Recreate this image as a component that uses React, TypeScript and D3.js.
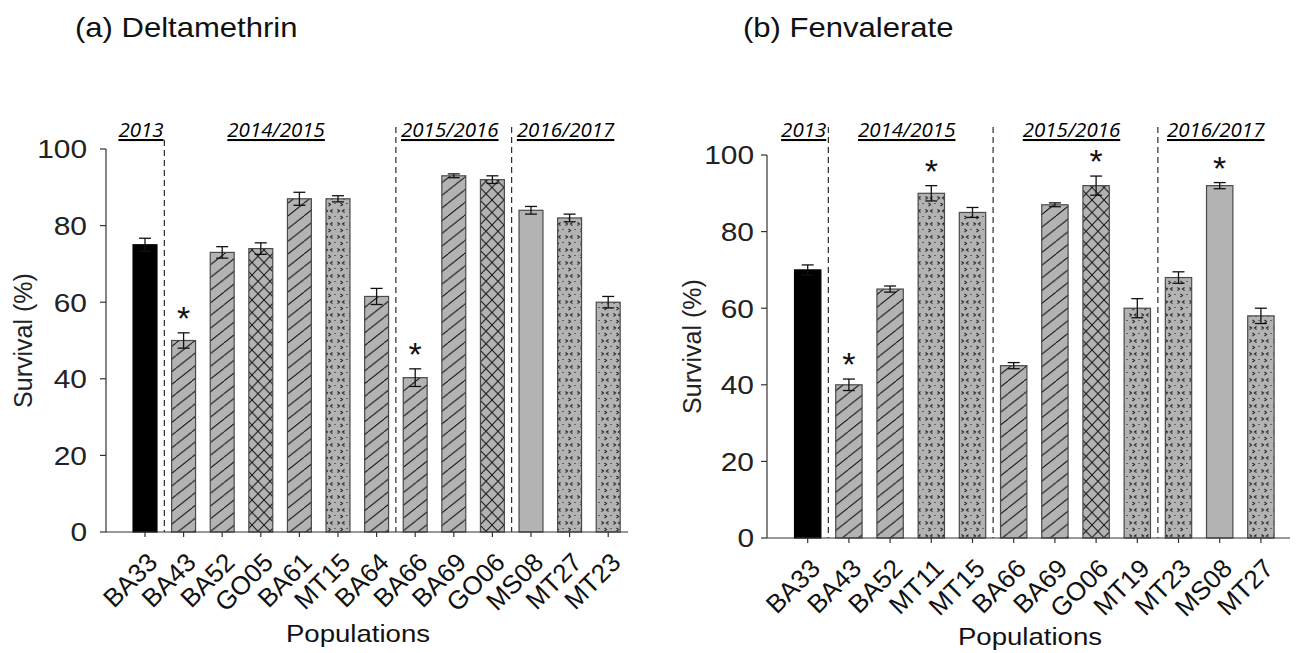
import React from "react";
import * as d3 from "d3";

// ---------- Data ----------
const leftCategories = ["BA33", "BA43", "BA52", "GO05", "BA61", "MT15", "BA64", "BA66", "BA69", "GO06", "MS08", "MT27", "MT23"];
const leftValues = [75, 50, 73, 74, 87, 87, 61.5, 40.3, 93, 92, 84, 82, 60];
const leftErrors = [1.7, 2, 1.5, 1.5, 1.7, 0.8, 2.1, 2.3, 0.5, 1, 1, 1, 1.5];
const leftPatterns = ["black", "hatch", "hatch", "cross", "hatch", "dots", "hatch", "hatch", "hatch", "cross", "plain", "dots", "dots"];
const leftStars = [false, true, false, false, false, false, false, true, false, false, false, false, false];
const leftGroupLabels = ["2013", "2014/2015", "2015/2016", "2016/2017"];
const leftGroupStarts = [0, 1, 7, 10];

const rightCategories = ["BA33", "BA43", "BA52", "MT11", "MT15", "BA66", "BA69", "GO06", "MT19", "MT23", "MS08", "MT27"];
const rightValues = [70, 40, 65, 90, 85, 45, 87, 92, 60, 68, 92, 58];
const rightErrors = [1.3, 1.5, 0.8, 2, 1.3, 0.8, 0.5, 2.5, 2.5, 1.5, 0.8, 2];
const rightPatterns = ["black", "hatch", "hatch", "dots", "dots", "hatch", "hatch", "cross", "dots", "dots", "plain", "dots"];
const rightStars = [false, true, false, true, false, false, false, true, false, false, true, false];
const rightGroupLabels = ["2013", "2014/2015", "2015/2016", "2016/2017"];
const rightGroupStarts = [0, 1, 5, 9];

const yTicks = [0, 20, 40, 60, 80, 100];

const FONT = "'Liberation Sans', Arial, sans-serif";
const STRETCH = 1.15;

type PanelProps = {
  title: string;
  titleX: number;
  cats: string[];
  values: number[];
  errors: number[];
  patterns: string[];
  stars: boolean[];
  groupLabels: string[];
  groupStarts: number[];
  axisX: number;
  axisRight: number;
  bandStart: number;
  bandEnd: number;
  padInner: number;
  yTop: number;
  yBottom: number;
  labelGap: number;
  yLabelX: number;
  popX: number;
  popY: number;
  firstSepTop: number;
};

function fillFor(p: string) {
  if (p === "black") return "#000";
  if (p === "plain") return "#b3b3b3";
  return `url(#pat-${p})`;
}

function Panel(props: PanelProps) {
  const { cats, values, errors, patterns, stars } = props;
  const x = d3
    .scaleBand<string>()
    .domain(cats)
    .range([props.bandStart, props.bandEnd])
    .paddingInner(props.padInner)
    .paddingOuter(props.padInner / 2);
  const y = d3.scaleLinear().domain([0, 100]).range([props.yBottom, props.yTop]);
  const bw = x.bandwidth();
  const cx = (c: string) => (x(c) as number) + bw / 2;

  const groups = props.groupLabels.map((g, i) => {
    const s = props.groupStarts[i];
    const e = (i + 1 < props.groupStarts.length ? props.groupStarts[i + 1] : cats.length) - 1;
    return { label: g, mid: (cx(cats[s]) + cx(cats[e])) / 2 };
  });
  const separators = props.groupStarts.slice(1).map((s) => (cx(cats[s - 1]) + cx(cats[s])) / 2);

  return (
    <g>
      <g transform={`translate(${props.titleX},37) scale(${STRETCH},1)`}>
        <text x={0} y={0} fontFamily={FONT} fontSize={27} fill="#111">
          {props.title}
        </text>
      </g>
      {groups.map((g, i) => (
        <text
          key={i}
          x={g.mid - 4}
          y={137}
          textAnchor="middle"
          fontFamily="'Open Sans', sans-serif"
          fontStyle="italic"
          fontWeight={500}
          fontSize={20.5}
          fill="#000"
          style={{ textDecoration: "underline" }}
        >
          {g.label}
        </text>
      ))}
      {separators.map((sx, i) => (
        <line
          key={i}
          x1={sx}
          x2={sx}
          y1={i === 0 ? props.firstSepTop : 127}
          y2={props.yBottom}
          stroke="#000"
          strokeWidth={1}
          strokeDasharray="6,4"
        />
      ))}
      {cats.map((c, i) => (
        <rect
          key={c}
          x={x(c)}
          y={y(values[i])}
          width={bw}
          height={props.yBottom - y(values[i])}
          fill={fillFor(patterns[i])}
          stroke={patterns[i] === "black" ? "#000" : "#4a4a4a"}
          strokeWidth={1.2}
        />
      ))}
      {cats.map((c, i) => {
        const px = cx(c);
        const t = y(values[i] + errors[i]);
        const b = y(values[i] - errors[i]);
        return (
          <g key={c} stroke="#111" strokeWidth={1.3}>
            <line x1={px} x2={px} y1={t} y2={b} />
            <line x1={px - 6} x2={px + 6} y1={t} y2={t} />
            <line x1={px - 6} x2={px + 6} y1={b} y2={b} />
          </g>
        );
      })}
      {cats.map((c, i) =>
        stars[i] ? (
          <text key={c} x={cx(c)} y={y(values[i] + errors[i]) - 3} textAnchor="middle" fontFamily={FONT} fontSize={34} fill="#111">
            *
          </text>
        ) : null
      )}
      <line x1={props.axisX} x2={props.axisX} y1={props.yTop} y2={props.yBottom} stroke="#333" strokeWidth={1.2} />
      {yTicks.map((t) => (
        <g key={t}>
          <line x1={props.axisX - 6} x2={props.axisX} y1={y(t)} y2={y(t)} stroke="#333" strokeWidth={1.2} />
          <g transform={`translate(${props.axisX - props.labelGap},${y(t)}) scale(${STRETCH},1)`}>
            <text x={0} y={0} dy="0.36em" textAnchor="end" fontFamily={FONT} fontSize={26} fill="#222">
              {t}
            </text>
          </g>
        </g>
      ))}
      <text
        transform={`translate(${props.yLabelX},${(props.yTop + props.yBottom) / 2}) rotate(-90)`}
        textAnchor="middle"
        dy="0.36em"
        fontFamily={FONT}
        fontSize={25}
        fill="#222"
      >
        Survival (%)
      </text>
      <line x1={props.axisX} x2={props.axisRight} y1={props.yBottom} y2={props.yBottom} stroke="#333" strokeWidth={1.2} />
      {cats.map((c) => (
        <g key={c}>
          <line x1={cx(c)} x2={cx(c)} y1={props.yBottom} y2={props.yBottom + 5} stroke="#333" strokeWidth={1.2} />
          <text
            transform={`translate(${cx(c) + 14},${props.yBottom + 32}) rotate(-45)`}
            textAnchor="end"
            fontFamily={FONT}
            fontSize={26}
            fill="#111"
          >
            {c}
          </text>
        </g>
      ))}
      <g transform={`translate(${props.popX},${props.popY}) scale(${STRETCH},1)`}>
        <text x={0} y={0} textAnchor="middle" fontFamily={FONT} fontSize={24} fill="#111">
          Populations
        </text>
      </g>
    </g>
  );
}

export default function App() {
  return (
    <svg width={1296} height={653} style={{ position: "absolute", left: 0, top: 0, background: "#fff" }}>
      <defs>
        <pattern id="pat-hatch" patternUnits="userSpaceOnUse" width={16} height={12.7}>
          <rect width={16} height={12.7} fill="#b3b3b3" />
          <path d="M0,12.7 L16,0 M-8,6.35 L0,0 M16,12.7 L24,6.35" stroke="#111" strokeWidth={1} />
        </pattern>
        <pattern id="pat-cross" patternUnits="userSpaceOnUse" width={12} height={12.5}>
          <rect width={12} height={12.5} fill="#b3b3b3" />
          <path d="M0,12.5 L12,0 M0,0 L12,12.5" stroke="#111" strokeWidth={1} />
        </pattern>
        <pattern id="pat-dots" patternUnits="userSpaceOnUse" width={12} height={13}>
          <rect width={12} height={13} fill="#b3b3b3" />
          <path d="M1.5,1.5 L3.5,3 L1.5,4.5 M8.5,1.5 L6.5,3 L8.5,4.5 M4.5,8 L6.5,9.5 L4.5,11 M11,8 L11,9" stroke="#222" strokeWidth={1.1} fill="none" />
        </pattern>
      </defs>
      <Panel
        title="(a) Deltamethrin"
        titleX={75}
        cats={leftCategories}
        values={leftValues}
        errors={leftErrors}
        patterns={leftPatterns}
        stars={leftStars}
        groupLabels={leftGroupLabels}
        groupStarts={leftGroupStarts}
        axisX={106}
        axisRight={628}
        bandStart={125.7}
        bandEnd={627.5}
        padInner={0.38}
        yTop={149}
        yBottom={532}
        labelGap={19}
        yLabelX={23}
        popX={358}
        popY={642}
        firstSepTop={140}
      />
      <Panel
        title="(b) Fenvalerate"
        titleX={743}
        cats={rightCategories}
        values={rightValues}
        errors={rightErrors}
        patterns={rightPatterns}
        stars={rightStars}
        groupLabels={rightGroupLabels}
        groupStarts={rightGroupStarts}
        axisX={767}
        axisRight={1290}
        bandStart={787.1}
        bandEnd={1281.5}
        padInner={0.36}
        yTop={155}
        yBottom={538}
        labelGap={13}
        yLabelX={692}
        popX={1030}
        popY={645}
        firstSepTop={127}
      />
    </svg>
  );
}
